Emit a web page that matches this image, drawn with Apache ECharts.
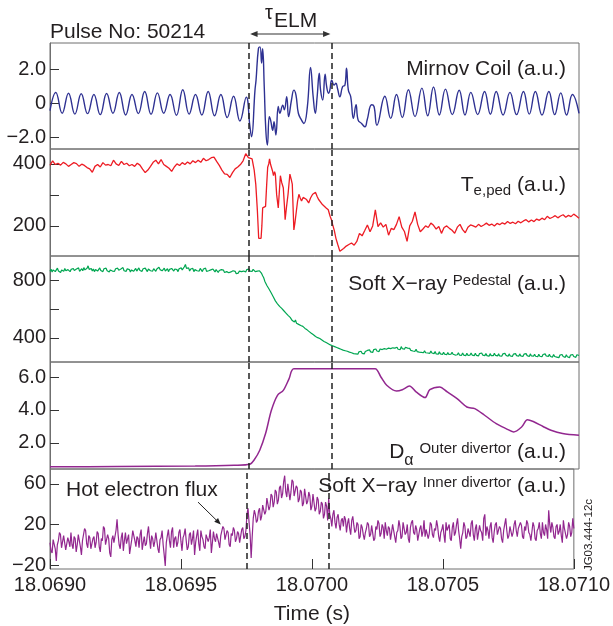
<!DOCTYPE html>
<html>
<head>
<meta charset="utf-8">
<script src="https://cdn.jsdelivr.net/npm/echarts@6/dist/echarts.min.js"></script>
<style>
  html, body { margin: 0; padding: 0; background: #fff; }
  #chart { width: 613px; height: 626px; }
</style>
</head>
<body>
<div id="chart"></div>
<script>
// Time is measured in microseconds after 18.0690 s; tick labels show seconds.
const timeTickValues = [0, 500, 1000, 1500, 2000];
const timeTickLabels = ['18.0690', '18.0695', '18.0700', '18.0705', '18.0710'];
const elmWindowUs = [753, 1064];

// Mirnov coil signal [time µs, a.u.]
const mirnovPoints = [
  [0,-0.45],[22,0.62],[46,-0.6],[70,0.58],[94,-0.65],[118,0.55],[142,-0.62],[166,0.5],[190,-0.68],
  [214,0.56],[238,-0.6],[262,0.62],[286,-0.7],[310,0.5],[334,-0.62],[358,0.68],[382,-0.66],[406,0.6],
  [430,-0.6],[454,0.5],[478,-0.72],[502,0.78],[526,-0.65],[550,0.5],[574,-0.7],[598,0.68],[622,-0.75],
  [646,0.5],[670,-0.85],[694,0.4],[718,-1.05],[742,0.35],[756,-1.4],[762,-1.98],[775,0.76],[779,1.35],
  [788,3.2],[794,3.3],[800,2.35],[804,3.2],[810,0.96],[816,-1.6],[822,-2.47],[829,-0.8],[834,-1.0],
  [842,-1.6],[847,-1.1],[854,-1.88],[863,-0.2],[869,-0.6],[880,-0.12],[886,-0.4],[895,0.37],[902,-0.8],
  [913,0.18],[922,0.76],[930,0.47],[939,-0.6],[951,-1.0],[960,-1.2],[973,-0.22],[985,2.1],[995,0.37],
  [1003,-0.6],[1010,0.37],[1018,1.75],[1023,0.76],[1031,0.18],[1040,1.7],[1046,0.96],[1053,0.57],
  [1058,0.76],[1065,1.35],[1074,1.06],[1081,1.16],[1087,0.86],[1096,0.37],[1106,0.96],[1115,1.06],
  [1121,2.05],[1128,0.76],[1137,0.37],[1147,-0.9],[1157,-0.1],[1165,-1.0],[1178,-1.2],[1191,-1.4],
  [1199,-1.0],[1216,-0.1],[1225,-0.2],[1236,-1.3],[1266,0.4],[1288,-0.9],[1310,0.5],[1332,-0.85],
  [1355,0.78],[1380,-0.8],[1406,0.88],[1428,-0.75],[1450,0.94],[1472,-0.7],[1495,0.82],[1521,-0.68],
  [1547,0.75],[1569,-0.7],[1591,0.63],[1617,-0.68],[1643,0.68],[1665,-0.66],[1687,0.68],[1713,-0.7],
  [1739,0.63],[1764,-0.68],[1790,0.68],[1812,-0.65],[1835,0.68],[1860,-0.7],[1886,0.68],[1908,-0.68],
  [1931,0.6],[1953,-0.7],[1975,0.5],[2000,-0.6]
];

// Pedestal electron temperature [time µs, a.u.]
const tePedPoints = [
  [0,395],[10,410],[20,398],[30,402],[40,396],[50,405],[60,400],[70,392],[80,398],[90,404],[100,401],
  [110,392],[120,399],[130,395],[140,388],[150,384],[160,373],[170,392],[180,398],[190,390],[200,404],
  [210,396],[220,398],[230,394],[240,412],[250,400],[260,395],[270,408],[280,398],[290,402],[300,394],
  [310,398],[320,392],[330,402],[340,396],[350,383],[360,372],[370,380],[380,392],[390,405],[400,412],
  [410,400],[420,414],[430,398],[440,392],[450,386],[460,376],[470,390],[480,400],[490,395],[500,404],
  [510,398],[520,406],[530,400],[540,410],[550,404],[560,412],[570,405],[580,418],[590,410],[600,414],
  [610,420],[620,422],[630,408],[640,395],[650,380],[660,368],[670,366],[680,356],[690,372],[700,384],
  [710,390],[720,398],[730,410],[740,433],[750,420],[764,416],[772,380],[778,334],[784,250],[789,160],
  [794,165],[798,160],[801,200],[804,258],[810,255],[815,263],[819,330],[823,389],[827,400],[830,416],
  [834,398],[837,400],[841,378],[845,362],[849,375],[852,367],[857,300],[863,258],[867,310],[871,362],
  [876,340],[882,323],[886,270],[889,220],[894,260],[900,302],[904,340],[907,367],[912,350],[916,335],
  [919,260],[922,187],[926,210],[931,245],[936,280],[941,302],[946,290],[951,280],[957,292],[963,290],
  [970,285],[978,274],[985,290],[993,302],[1000,296],[1004,308],[1010,295],[1015,286],[1022,280],
  [1030,269],[1037,272],[1044,258],[1052,252],[1059,231],[1064,220],[1069,203],[1075,185],[1081,160],
  [1088,140],[1096,118],[1100,122],[1110,127],[1120,135],[1130,140],[1140,145],[1150,138],[1160,150],
  [1170,176],[1180,168],[1190,185],[1200,203],[1210,181],[1220,200],[1230,252],[1240,198],[1250,210],
  [1260,196],[1270,205],[1280,170],[1290,192],[1300,188],[1310,205],[1320,230],[1330,196],[1340,182],
  [1350,150],[1360,200],[1370,215],[1380,245],[1390,205],[1400,181],[1410,190],[1420,200],[1430,195],
  [1440,209],[1450,202],[1460,190],[1470,198],[1480,176],[1490,195],[1500,200],[1510,192],[1520,186],
  [1530,176],[1540,196],[1550,205],[1560,188],[1570,178],[1580,196],[1590,203],[1600,200],[1610,196],
  [1620,205],[1630,198],[1640,203],[1650,209],[1660,202],[1670,206],[1680,200],[1690,208],[1700,204],
  [1710,210],[1720,206],[1730,214],[1740,208],[1750,212],[1760,207],[1770,215],[1780,210],[1790,216],
  [1800,220],[1810,213],[1820,219],[1830,214],[1840,222],[1850,218],[1860,225],[1870,220],[1880,231],
  [1890,224],[1900,228],[1910,233],[1920,226],[1930,232],[1940,236],[1950,228],[1960,234],[1970,230],
  [1980,238],[1990,232],[2000,225]
];

// Pedestal soft X-ray, sampled every 4 µs from t = 0 (a.u.); one row = 80 µs
const sxrPedStepUs = 4;
const sxrPedValues = [
  860,874,856,870,878,858,868,882,862,872,852,870,876,860,880,864,854,872,866,858,
  874,862,880,866,856,876,868,884,860,872,878,864,886,870,858,882,898,874,866,880,
  862,876,858,872,880,862,870,884,866,874,858,878,868,882,864,876,856,870,880,862,
  872,860,878,866,882,868,858,876,870,886,864,874,860,878,868,872,856,870,876,860,
  866,880,862,874,884,866,872,860,878,868,882,870,858,876,886,864,874,862,878,868,
  860,876,870,888,872,880,864,874,882,862,870,878,858,874,866,880,870,862,876,866,
  872,858,878,868,884,870,862,892,908,880,870,884,862,876,868,880,858,872,878,864,
  874,862,880,868,858,876,866,882,860,872,864,854,870,862,876,866,856,872,864,852,
  866,856,872,860,868,852,864,858,870,850,862,856,846,864,852,860,844,856,848,862,
  850,858,846,862,868,856,872,864,876,862,870,860,874,866,858,870,862,852,864,856,
  846,830,816,792,780,762,756,738,734,712,704,684,678,656,654,636,634,618,622,604,
  604,588,588,572,574,556,558,542,546,520,520,510,524,502,510,494,504,486,496,480,
  484,466,472,456,462,444,452,432,440,422,428,410,420,402,414,396,404,386,394,376,
  384,368,376,360,370,352,362,346,358,340,350,334,344,328,338,322,332,316,326,312,
  322,308,318,302,312,298,306,292,304,290,300,288,304,292,308,294,302,290,306,298,
  314,302,318,304,312,300,320,308,324,310,318,306,324,312,320,308,326,314,322,312,
  330,318,326,314,332,320,330,318,336,322,332,320,340,326,334,322,336,324,330,318,
  328,314,324,310,320,308,322,306,316,302,314,300,310,298,312,298,308,296,306,294,
  310,296,304,292,306,290,302,288,304,290,300,286,302,288,296,284,300,286,298,288,
  302,288,296,282,294,284,298,282,292,280,296,282,290,278,294,280,292,282,296,282,
  290,278,294,280,288,276,292,280,296,282,290,278,292,278,288,274,292,278,290,278,
  294,280,288,276,290,276,286,274,290,278,294,280,288,274,290,276,286,272,288,278,
  292,278,286,274,290,276,284,272,288,278,292,278,286,272,290,276,284,274,288,274,
  284,270,288,274,282,270,286,274,290,276,284,272,288,272,282,268,286,272,282,268,
  280,264,282,270,286,272,280,266,284,270,278,264,282,270,286,272,280,266,284,272,
  279
];

// Outer divertor D-alpha [time µs, a.u.]
const dAlphaPoints = [
  [0,0.55],[254,0.57],[549,0.6],[697,0.65],[756,0.71],[771,0.95],[793,1.56],[815,2.57],[837,3.98],
  [860,4.89],[882,5.19],[904,5.9],[922,6.5],[1229,6.5],[1251,6.0],[1273,5.5],[1310,5.15],[1332,5.23],
  [1359,5.45],[1384,5.1],[1418,4.75],[1436,5.23],[1473,5.4],[1502,5.1],[1539,4.69],[1576,4.18],
  [1606,4.08],[1643,3.68],[1687,3.17],[1724,2.87],[1753,2.67],[1783,2.97],[1805,3.41],[1827,3.3],
  [1864,3.0],[1894,2.77],[1938,2.57],[2000,2.46]
];

// Inner divertor soft X-ray, sampled every 4 µs from t = 0 (a.u.); one row = 80 µs
const sxrInnerStepUs = 4;
const sxrInnerValues = [
  2,-6,-8,5,6,-4,-16,0,4,12,10,-3,-2,9,8,-5,-6,7,3,-2,
  12,0,-4,8,6,-7,0,10,9,-2,-10,4,5,16,14,1,-3,9,7,-4,
  -5,6,8,-3,2,13,11,-2,-7,6,4,18,16,0,-1,10,6,-8,-12,5,
  9,2,3,14,25,10,0,-4,7,12,-6,4,12,1,2,10,-9,-2,5,14,
  14,4,-2,8,6,-3,10,15,-5,2,8,-1,1,11,18,6,-4,9,6,-2,
  3,12,11,-4,-8,5,7,14,0,-10,-21,2,9,15,4,-3,13,17,-3,6,
  8,-2,2,12,15,3,-6,7,10,16,4,-5,-2,10,12,0,6,14,-10,2,
  9,15,1,-6,14,8,5,-2,-4,10,11,3,7,15,-8,2,13,6,3,11,
  10,2,-3,9,8,18,16,5,4,14,12,0,-2,11,9,17,14,3,6,13,
  11,2,3,15,17,6,8,14,30,36,22,10,-13,8,26,34,30,22,24,33,
  36,24,28,39,40,30,33,46,45,34,38,50,48,37,42,54,52,40,44,56,
  58,46,50,62,68,52,47,60,60,44,52,64,62,48,49,58,56,42,45,54,
  52,38,41,55,55,40,43,52,48,34,38,50,50,33,36,47,44,30,33,42,
  40,26,30,42,38,24,46,30,26,18,30,34,22,16,27,30,20,14,24,26,
  18,28,25,12,21,26,16,10,24,28,19,12,14,22,20,6,8,20,17,10,
  5,12,16,22,20,8,10,19,18,4,6,18,15,24,21,8,11,20,17,6,
  22,14,9,18,16,5,12,20,19,8,2,12,14,24,18,6,8,22,21,10,
  12,20,6,2,17,22,24,12,10,19,15,4,4,16,19,8,13,24,8,15,
  16,6,11,22,20,10,7,16,14,24,18,8,3,12,15,20,10,2,22,14,
  13,20,6,4,17,22,9,12,20,26,14,6,-4,8,12,22,18,6,8,16,
  15,8,21,24,10,4,16,20,5,12,19,14,12,4,26,30,9,18,14,6,
  18,22,7,2,13,20,22,10,11,18,16,6,2,14,20,26,14,6,9,18,
  17,8,12,20,24,14,8,16,15,22,19,8,6,18,14,24,21,12,10,4,
  13,22,18,6,4,14,16,22,11,6,22,12,9,20,15,6,34,20,12,22,
  17,8,6,18,20,10,13,20,9,2,24,16,15,6,10,22,18,8,12,26,
  16
];

// Y-axis ranges and tick marks per panel
const panelRanges = [[-2.7, 3.53], [103, 448], [234, 966], [0.42, 6.91], [-23.9, 74.6]];
const panelTickValues = [[-2, 0, 2], [200, 300, 400], [400, 600, 800], [2, 4, 6], [-20, 20, 60]];
const panelLabelValues = [[-2, 0, 2], [200, 400], [400, 800], [2, 4, 6], [-20, 20, 60]];
const panelLabelTexts = [['−2.0', '0', '2.0'], ['200', '400'], ['400', '800'], ['2.0', '4.0', '6.0'], ['−20', '20', '60']];

const FONT = '"Liberation Sans", Arial, Helvetica, sans-serif';
const TEXT = '#231f20';
const FRAME = '#6f6f6f';

const uniform = (vals, step) => vals.map((v, i) => [i * step, v]);

const panelBoxes = [
  { top: 43, height: 106 },
  { top: 149, height: 107 },
  { top: 256, height: 106 },
  { top: 362, height: 107 },
  { top: 469, height: 101 }
];

const grids = panelBoxes.map(b => ({
  left: 50, right: 34, top: b.top, height: b.height,
  show: true, borderColor: FRAME, borderWidth: 1, backgroundColor: 'transparent'
}));

const xAxes = panelBoxes.map((b, i) => {
  const last = i === panelBoxes.length - 1;
  return {
    type: 'value', gridIndex: i, min: 0, max: 2000, interval: 500,
    axisLine: { show: false, onZero: false },
    splitLine: { show: false },
    axisTick: { show: last, inside: true, length: 10, lineStyle: { color: '#333', width: 1 } },
    axisLabel: {
      show: last, fontFamily: FONT, fontSize: 20, color: TEXT, margin: 6,
      formatter: v => timeTickLabels[timeTickValues.indexOf(v)] || ''
    },
    name: last ? 'Time (s)' : '',
    nameLocation: 'middle', nameGap: 35,
    nameTextStyle: { fontFamily: FONT, fontSize: 21, color: TEXT }
  };
});

const yAxes = panelRanges.map((r, i) => ({
  type: 'value', gridIndex: i, min: r[0], max: r[1],
  axisLine: { show: true, onZero: false, lineStyle: { color: FRAME, width: 1 } },
  splitLine: { show: false },
  axisTick: { show: true, inside: true, length: 9, customValues: panelTickValues[i], lineStyle: { color: '#333', width: 1 } },
  axisLabel: {
    show: true, fontFamily: FONT, fontSize: 20, color: TEXT, margin: 4,
    customValues: panelLabelValues[i],
    formatter: v => panelLabelTexts[i][panelLabelValues[i].indexOf(v)]
  }
}));

const elmMarks = {
  silent: true, symbol: ['none', 'none'], animation: false,
  label: { show: false },
  lineStyle: { type: [6, 4], color: '#222', width: 1.5 },
  emphasis: { disabled: true },
  data: elmWindowUs.map(t => ({ xAxis: t }))
};

function lineSeries(idx, data, color, smooth, width) {
  return {
    type: 'line', xAxisIndex: idx, yAxisIndex: idx, data,
    showSymbol: false, smooth, animation: false, clip: true,
    lineStyle: { color, width },
    markLine: elmMarks
  };
}

const option = {
  animation: false,
  grid: grids,
  xAxis: xAxes,
  yAxis: yAxes,
  series: [
    lineSeries(0, mirnovPoints, '#2e3192', 0.45, 1.4),
    lineSeries(1, tePedPoints, '#ed1c24', false, 1.3),
    lineSeries(2, uniform(sxrPedValues, sxrPedStepUs), '#00a651', false, 1.2),
    lineSeries(3, dAlphaPoints, '#92278f', 0.3, 1.5),
    lineSeries(4, uniform(sxrInnerValues, sxrInnerStepUs), '#92278f', false, 1.2)
  ]
};

const chart = echarts.init(document.getElementById('chart'), null, { renderer: 'canvas' });
chart.setOption(option);

// Annotations placed from axis coordinates; super/subscripts are shifted with padding
const richStyles = {
  m: { fontFamily: FONT, fontSize: 21, lineHeight: 26, verticalAlign: 'middle', fill: TEXT },
  sup: { fontFamily: FONT, fontSize: 15, lineHeight: 16, verticalAlign: 'middle', padding: [0, 0, 6, 0], fill: TEXT },
  sub: { fontFamily: FONT, fontSize: 15, lineHeight: 16, verticalAlign: 'middle', padding: [12, 0, 0, 0], fill: TEXT },
  subA: { fontFamily: FONT, fontSize: 16, lineHeight: 16, verticalAlign: 'middle', padding: [18, 0, 0, 0], fill: TEXT }
};

function panelText(text, y) {
  return {
    type: 'text', silent: true,
    style: { text, rich: richStyles, x: 566, y, align: 'right', verticalAlign: 'middle' }
  };
}

function arrowHead(x, y, angle, size, color) {
  const a1 = angle + Math.PI - 0.4, a2 = angle + Math.PI + 0.4;
  return {
    type: 'polygon', silent: true,
    shape: { points: [[x, y], [x + size * Math.cos(a1), y + size * Math.sin(a1)], [x + size * Math.cos(a2), y + size * Math.sin(a2)]] },
    style: { fill: color }
  };
}

const xStart = chart.convertToPixel({ xAxisIndex: 0 }, elmWindowUs[0]);
const xEnd = chart.convertToPixel({ xAxisIndex: 0 }, elmWindowUs[1]);
const arrowY = 34;
const hotFrom = chart.convertToPixel({ xAxisIndex: 4, yAxisIndex: 4 }, [565, 42]);
const hotTo = chart.convertToPixel({ xAxisIndex: 4, yAxisIndex: 4 }, [652, 20]);
const hotAngle = Math.atan2(hotTo[1] - hotFrom[1], hotTo[0] - hotFrom[0]);

chart.setOption({
  graphic: [
    { type: 'text', silent: true, style: { text: 'Pulse No: 50214', x: 50, y: 32, align: 'left', verticalAlign: 'middle', font: '21px ' + FONT, fill: TEXT } },
    { type: 'text', silent: true, style: { text: 'τ', x: 265, y: 13, align: 'left', verticalAlign: 'middle', font: '20px ' + FONT, fill: TEXT } },
    { type: 'text', silent: true, style: { text: 'ELM', x: 274, y: 21, align: 'left', verticalAlign: 'middle', font: '21px ' + FONT, fill: TEXT } },
    { type: 'line', silent: true, shape: { x1: xStart + 3, y1: arrowY, x2: xEnd - 3, y2: arrowY }, style: { stroke: '#333', lineWidth: 1.2 } },
    arrowHead(xStart + 1, arrowY, Math.PI, 8, '#333'),
    arrowHead(xEnd - 1, arrowY, 0, 8, '#333'),
    panelText('{m|Mirnov Coil (a.u.)}', 69),
    panelText('{m|T}{sub|e,ped}{m| (a.u.)}', 185),
    panelText('{m|Soft X−ray }{sup|Pedestal}{m| (a.u.)}', 284),
    panelText('{m|D}{subA|α}{m| }{sup|Outer divertor}{m| (a.u.)}', 452),
    panelText('{m|Soft X−ray }{sup|Inner divertor}{m| (a.u.)}', 486),
    { type: 'text', silent: true, style: { text: 'Hot electron flux', x: 66, y: 490, align: 'left', verticalAlign: 'middle', font: '21px ' + FONT, fill: TEXT } },
    { type: 'line', silent: true, shape: { x1: hotFrom[0], y1: hotFrom[1], x2: hotTo[0] - 4 * Math.cos(hotAngle), y2: hotTo[1] - 4 * Math.sin(hotAngle) }, style: { stroke: '#222', lineWidth: 1 } },
    arrowHead(hotTo[0], hotTo[1], hotAngle, 7, '#222'),
    { type: 'text', silent: true, rotation: Math.PI / 2, x: 589, y: 535, style: { text: 'JG03.444-12c', x: 0, y: 0, align: 'center', verticalAlign: 'middle', font: '11.5px ' + FONT, fill: TEXT } }
  ]
});
</script>
</body>
</html>
